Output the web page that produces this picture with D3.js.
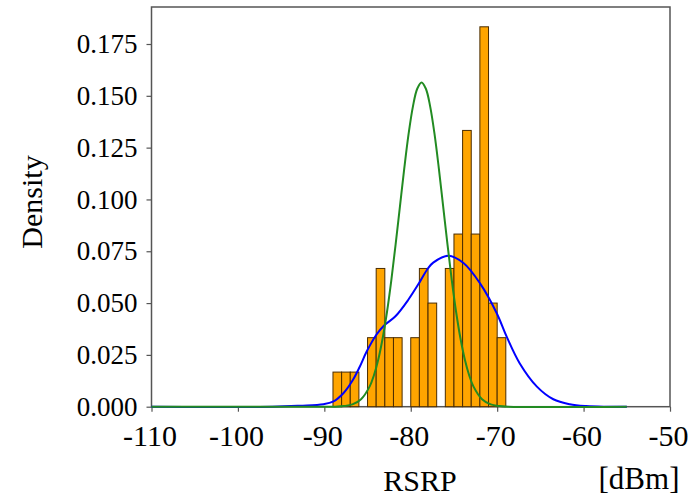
<!DOCTYPE html>
<html>
<head>
<meta charset="utf-8">
<script src="https://cdn.jsdelivr.net/npm/d3@7"></script>
<style>
  body { margin: 0; background: #fff; }
  text { font-family: "Liberation Serif", "Times New Roman", serif; fill: #000; }
</style>
</head>
<body>
<svg id="chart" width="689" height="499"></svg>
<script>
"use strict";

// histogram bins (1 dBm wide), left edge and density
var binStart = [-89, -88, -87, -86, -85, -84, -83, -82, -81, -80,
                -79, -78, -77, -76, -75, -74, -73, -72, -71, -70];
var binDensity = [0.0167, 0.0167, 0.0167, 0, 0.0333, 0.0667, 0.0333, 0.0333, 0, 0.0333,
                  0.0667, 0.05, 0, 0.0667, 0.0833, 0.1333, 0.0833, 0.1833, 0.05, 0.0333];

// blue curve (kernel density)
var kdeX = [-110, -96, -92.8, -90.1, -89.0, -87.8, -86.7, -85.9, -85.1, -84.0, -83.0,
            -81.8, -80.3, -78.9, -78.0, -77.4, -75.65, -73.9, -72.0, -70.05, -68.9,
            -67.4, -65.4, -63.5, -61.6, -59.7, -57.5, -55];
var kdeY = [0, 0, 0.0005, 0.0012, 0.0024, 0.0065, 0.0129, 0.0193, 0.0266, 0.0346, 0.0395,
            0.0435, 0.0515, 0.0606, 0.0668, 0.0695, 0.0728, 0.0693, 0.0596, 0.0451, 0.0338,
            0.021, 0.0097, 0.0036, 0.0012, 0.0003, 0, 0];

// green curve (normal fit)
var fitX = [-110, -95, -88.75, -87.75, -86.75, -85.75, -84.75, -84.25, -83.75, -83.25,
            -82.75, -82.25, -81.75, -81.25, -80.75, -80.25, -79.75, -79.25, -78.75,
            -78.25, -77.75, -77.25, -76.75, -76.25, -75.75, -75.25, -74.75, -74.25,
            -73.75, -73.25, -72.75, -71.75, -70.75, -69.75, -68.75, -55];
var fitY = [0, 0, 0, 0.0003, 0.0011, 0.0036, 0.0098, 0.0153, 0.0229, 0.033,
            0.0457, 0.061, 0.0783, 0.0967, 0.115, 0.1316, 0.1448, 0.1534, 0.1564,
            0.1534, 0.1448, 0.1316, 0.115, 0.0967, 0.0783, 0.061, 0.0457, 0.033,
            0.0229, 0.0153, 0.0098, 0.0036, 0.0011, 0.0003, 0, 0];

var xTicks = [-110, -100, -90, -80, -70, -60, -50];
var yTicks = [0, 0.025, 0.05, 0.075, 0.1, 0.125, 0.15, 0.175];

var serif = "'Liberation Serif', 'Times New Roman', serif";

var svg = d3.select("#chart");

var plotLeft = 151.5, plotRight = 670, plotTop = 7, plotBottom = 406.7;

var x = d3.scaleLinear().domain([-110, -50]).range([plotLeft, plotRight]);
var y = d3.scaleLinear().domain([0, 0.175]).range([plotBottom, 44]);

// frame
svg.append("rect")
    .attr("x", plotLeft).attr("y", plotTop)
    .attr("width", plotRight - plotLeft).attr("height", plotBottom - plotTop)
    .attr("fill", "none")
    .attr("stroke", "#555")
    .attr("stroke-width", 1.5);

// axes
var xAxis = svg.append("g")
    .attr("transform", "translate(0," + plotBottom + ")")
    .call(d3.axisBottom(x).tickValues(xTicks).tickSize(5).tickPadding(13)
      .tickFormat(function(d){ return d }));
xAxis.attr("font-family", null).attr("font-size", null);
xAxis.select(".domain").remove();
xAxis.selectAll("line").attr("stroke", "#555").attr("stroke-width", 1.2);
xAxis.selectAll("text")
    .style("font-family", serif)
    .style("font-size", "30px")
    .attr("dx", -2)
    .attr("dy", "0.71em");

var yAxis = svg.append("g")
    .attr("transform", "translate(" + plotLeft + ",0)")
    .call(d3.axisLeft(y).tickValues(yTicks).tickSize(5).tickPadding(9)
      .tickFormat(d3.format(".3f")));
yAxis.attr("font-family", null).attr("font-size", null);
yAxis.select(".domain").remove();
yAxis.selectAll("line").attr("stroke", "#555").attr("stroke-width", 1.2);
yAxis.selectAll("text")
    .style("font-family", serif)
    .style("font-size", "27px");

// bars
svg.selectAll("rect.bar")
    .data(binStart)
    .enter()
    .append("rect")
    .attr("class", "bar")
    .attr("x", function(d){ return x(d) })
    .attr("y", function(d,i){ return y(binDensity[i]) })
    .attr("width", function(d){ return x(d + 1) - x(d) })
    .attr("height", function(d,i){ return plotBottom - y(binDensity[i]) })
    .style("fill", "#FFA500")
    .style("stroke", "#4a2c00")
    .style("stroke-width", 1)
    .style("display", function(d,i){ return binDensity[i] > 0 ? null : "none" });

var line = d3.line()
    .x(function(d){ return x(d[0]) })
    .y(function(d){ return y(d[1]) })
    .curve(d3.curveCatmullRom);

svg.append("path")
    .datum(d3.zip(kdeX, kdeY))
    .attr("d", line)
    .attr("fill", "none")
    .attr("stroke", "#0000ff")
    .attr("stroke-width", 2);

svg.append("path")
    .datum(d3.zip(fitX, fitY))
    .attr("d", line)
    .attr("fill", "none")
    .attr("stroke", "#228b22")
    .attr("stroke-width", 2);

// labels
svg.append("text")
    .attr("transform", "translate(42,202) rotate(-90)")
    .attr("text-anchor", "middle")
    .style("font-family", serif)
    .style("font-size", "30px")
    .text("Density");

svg.append("text")
    .attr("x", 420).attr("y", 491)
    .attr("text-anchor", "middle")
    .style("font-family", serif)
    .style("font-size", "30px")
    .text("RSRP");

svg.append("text")
    .attr("x", 639).attr("y", 489)
    .attr("text-anchor", "middle")
    .style("font-family", serif)
    .style("font-size", "31px")
    .text("[dBm]");
</script>
</body>
</html>
